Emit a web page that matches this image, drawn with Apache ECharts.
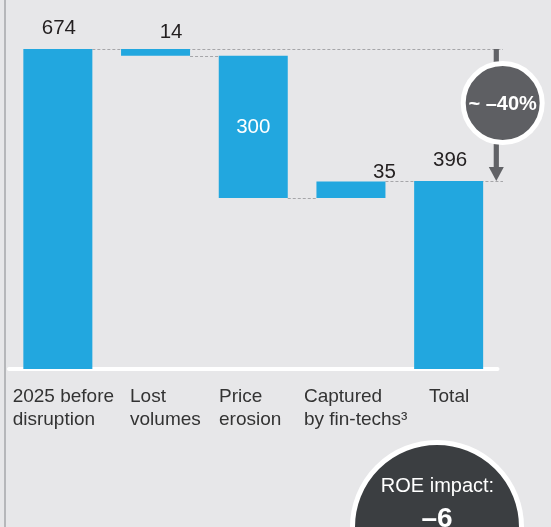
<!DOCTYPE html>
<html><head><meta charset="utf-8">
<script src="https://cdn.jsdelivr.net/npm/echarts@6/dist/echarts.min.js"></script>
<style>html,body{margin:0;padding:0;background:#e7e7e9}#c{width:551px;height:527px}</style>
</head><body><div id="c"></div>
<script>
// ---- data ----
const categories = ['2025 before\ndisruption', 'Lost\nvolumes', 'Price\nerosion', 'Captured\nby fin-techs\u00b3', 'Total'];
const values = [674, 14, 300, 35, 396];
const kinds = ['total', 'down', 'down', 'up', 'total'];
const changeText = '~ \u201340%';
const roeTitle = 'ROE impact:';
const roeValue = '\u20136';

// ---- derived waterfall values ----
const bases = [], tops = [];
let run = 0;
values.forEach((v, i) => {
  if (kinds[i] === 'total') { bases.push(0); run = v; tops.push(v); }
  else if (kinds[i] === 'down') { run -= v; bases.push(run); tops.push(run); }
  else { bases.push(run); run += v; tops.push(run); }
});
const n = values.length;
const connectors = [];
for (let i = 0; i < n - 1; i++) {
  connectors.push([i, tops[i], (i === 0 || i === n - 2) ? 1 : 0]);
}
const arrowData = [[tops[0], values[n - 1]]];

// ---- styling ----
const BLUE = '#22a7df';
const BAR_W = 69;
const FONT = '"Liberation Sans", Arial, sans-serif';
const labelStyles = [
  { position: 'top', distance: 10, offset: [1, 0], color: '#231f20' },
  { position: 'top', distance: 6, offset: [15.5, 0], color: '#231f20' },
  { position: 'inside', color: '#ffffff' },
  { position: 'top', distance: -1, offset: [33.5, 0], color: '#231f20' },
  { position: 'top', distance: 10, offset: [1.5, 0], color: '#231f20' }
];
const labelShift = [45.2, 25.5, 34.2, 47, 19.6];
const rich = {};
labelShift.forEach((w, i) => {
  rich['r' + i] = { width: w, align: 'left', fontSize: 19, lineHeight: 23, color: '#333333', fontFamily: FONT };
});

const chart = echarts.init(document.getElementById('c'), null, { renderer: 'canvas' });
chart.setOption({
  backgroundColor: '#e7e7e9',
  animation: false,
  grid: { left: 9, right: 53.5, top: 49, bottom: 158 },
  xAxis: {
    type: 'category',
    data: categories,
    offset: 2,
    axisLine: { show: true, lineStyle: { color: '#ffffff', width: 4 } },
    axisTick: { show: false },
    axisLabel: {
      interval: 0,
      align: 'right',
      margin: 14,
      formatter: (val, idx) => val.split('\n').map(s => '{r' + idx + '|' + s + '}').join('\n'),
      rich: rich
    }
  },
  yAxis: { type: 'value', min: 0, max: 674, show: false, splitLine: { show: false } },
  series: [
    {
      type: 'custom',
      z: 1,
      silent: true,
      encode: { x: 0, y: 1 },
      data: connectors,
      renderItem: (params, api) => {
        const i = api.value(0), lvl = api.value(1), toArrow = api.value(2);
        const p = api.coord([i, lvl]);
        const x1 = p[0] + BAR_W / 2;
        const x2 = toArrow ? params.coordSys.x + params.coordSys.width + 5.5 : api.coord([i + 1, lvl])[0] - BAR_W / 2;
        const y = Math.round(p[1]) + 0.5;
        return { type: 'line', shape: { x1: x1, y1: y, x2: x2, y2: y },
          style: { stroke: '#a6a6a9', lineWidth: 1, lineDash: [3, 2] } };
      }
    },
    {
      type: 'bar', stack: 'w', barWidth: BAR_W, z: 2, silent: true,
      itemStyle: { color: 'rgba(0,0,0,0)' },
      data: bases
    },
    {
      type: 'bar', stack: 'w', barWidth: BAR_W, z: 2, silent: true,
      itemStyle: { color: BLUE },
      label: { show: true, fontSize: 20.5, fontFamily: FONT },
      data: values.map((v, i) => ({ value: v, label: labelStyles[i] }))
    },
    {
      type: 'custom',
      z: 5,
      silent: true,
      data: arrowData,
      renderItem: (params, api) => {
        const y1 = api.coord([0, api.value(0)])[1];
        const y2 = api.coord([0, api.value(1)])[1];
        const xr = params.coordSys.x + params.coordSys.width;
        const ax = xr - 1.2;
        const cx = xr + 5.2;
        const cy = y1 + (y2 - y1) * 0.41;
        return {
          type: 'group',
          children: [
            { type: 'rect', shape: { x: ax - 2.6, y: y1, width: 5.2, height: (y2 - y1) - 13 }, style: { fill: '#616266' } },
            { type: 'polygon', shape: { points: [[ax - 7.5, y2 - 14], [ax + 7.5, y2 - 14], [ax, y2]] }, style: { fill: '#616266' } },
            { type: 'circle', shape: { cx: cx, cy: cy, r: 39.5 }, style: { fill: '#5e5f63', stroke: '#ffffff', lineWidth: 5 } },
            { type: 'text', x: cx, y: cy + 1, style: { text: changeText, fill: '#ffffff', font: 'bold 20px ' + FONT, align: 'center', verticalAlign: 'middle' } }
          ]
        };
      }
    }
  ],
  graphic: [
    { type: 'rect', left: 4, top: 0, shape: { width: 2, height: 527 }, style: { fill: '#b6b7ba' }, silent: true },
    { type: 'circle', x: 437, y: 527, shape: { r: 84.5 }, style: { fill: '#3b3e41', stroke: '#ffffff', lineWidth: 5 }, silent: true },
    { type: 'text', x: 437.5, y: 486, style: { text: roeTitle, fill: '#ffffff', font: '20px ' + FONT, align: 'center', verticalAlign: 'middle' }, silent: true },
    { type: 'text', x: 437, y: 519, style: { text: roeValue, fill: '#ffffff', font: 'bold 28px ' + FONT, align: 'center', verticalAlign: 'middle' }, silent: true }
  ]
});
</script>
</body></html>
